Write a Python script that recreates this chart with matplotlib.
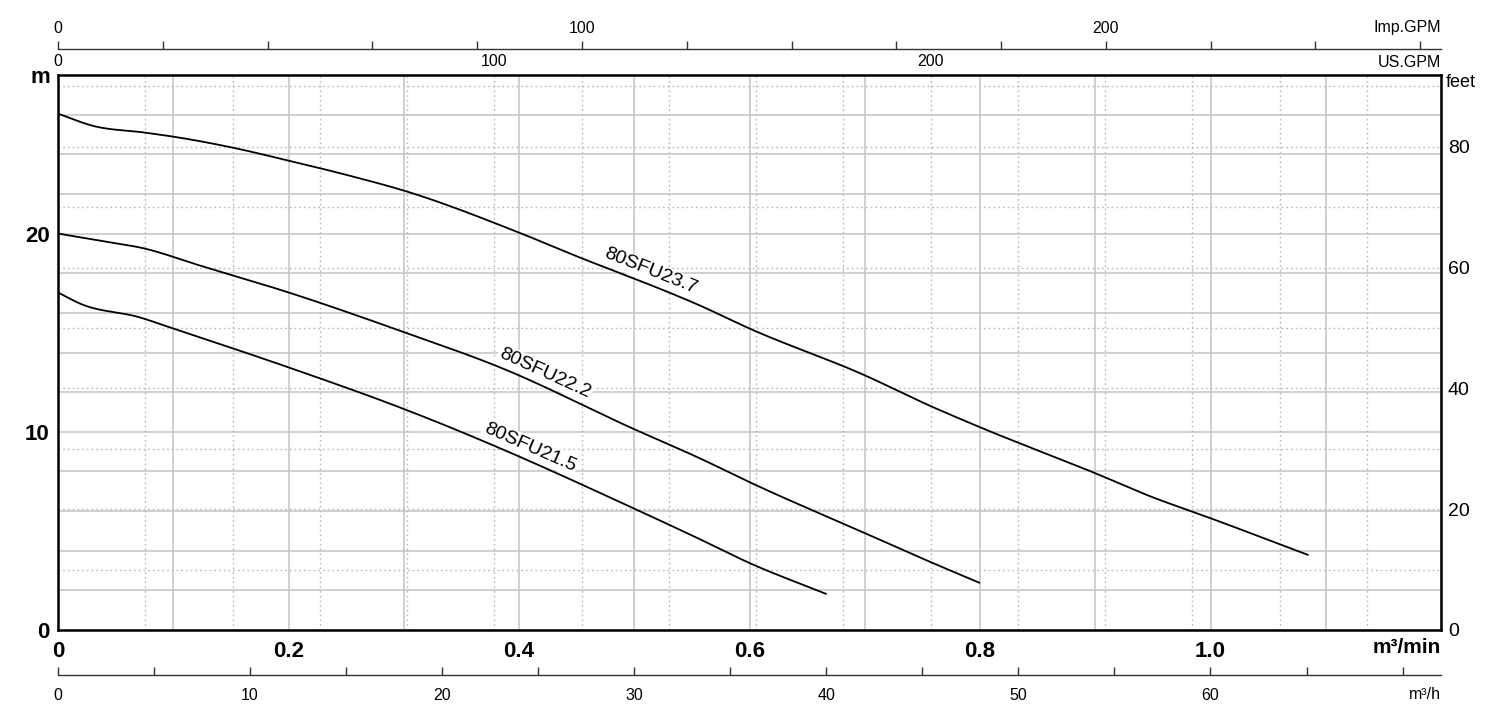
import numpy as np
import matplotlib.pyplot as plt
from matplotlib.ticker import MultipleLocator

plt.rcParams['font.family'] = ['Liberation Sans', 'DejaVu Sans']

# pump curves: flow in m3/min, head in m
q_237 = [0, 0.03, 0.076, 0.1, 0.152, 0.2, 0.253, 0.3, 0.4, 0.455, 0.5, 0.557,
         0.6, 0.7, 0.757, 0.8, 0.9, 0.9475, 1.0, 1.085]
h_237 = [26.05, 25.44, 25.09, 24.89, 24.33, 23.68, 22.92, 22.17, 20.05, 18.74,
         17.73, 16.37, 15.21, 12.85, 11.3, 10.23, 7.91, 6.75, 5.64, 3.78]
q_222 = [0, 0.036, 0.0755, 0.123, 0.2, 0.301, 0.3835, 0.5, 0.557, 0.6, 0.7, 0.757, 0.8]
h_222 = [20.0, 19.65, 19.24, 18.39, 17.03, 15.01, 13.25, 10.13, 8.66, 7.46, 4.89, 3.43, 2.37]
q_215 = [0, 0.019, 0.071, 0.1, 0.2, 0.301, 0.34, 0.3835, 0.499, 0.557, 0.6, 0.667]
h_215 = [17.03, 16.47, 15.77, 15.21, 13.25, 11.13, 10.23, 9.17, 6.15, 4.58, 3.38, 1.81]

names = ['80SFU23.7', '80SFU22.2', '80SFU21.5']
label_q = [0.51, 0.418, 0.405]   # where each name sits along its curve

xticks = [0, 0.2, 0.4, 0.6, 0.8, 1.0]
xticklabels = ['0', '0.2', '0.4', '0.6', '0.8', '1.0']
yticks = [0, 10, 20]
feet_ticks = [0, 20, 40, 60, 80]
usgpm_ticks = [0, 100, 200]
impgpm_ticks = [0, 100, 200]
m3h_ticks = [0, 10, 20, 30, 40, 50, 60]

# unit conversions
US_PER_M3MIN = 264.172
IMP_PER_M3MIN = 219.969
FT_PER_M = 1 / 0.3048


# cubic Hermite through the read points (weighted centred slopes)
def smooth(xs, ys, n=600):
    x = np.asarray(xs, float)
    y = np.asarray(ys, float)
    hstep = np.diff(x)
    d = np.diff(y) / hstep
    m = np.empty_like(x)
    m[0], m[-1] = d[0], d[-1]
    m[1:-1] = (d[:-1] * hstep[1:] + d[1:] * hstep[:-1]) / (hstep[:-1] + hstep[1:])
    xx = np.linspace(x[0], x[-1], n)
    i = np.clip(np.searchsorted(x, xx, side='right') - 1, 0, len(x) - 2)
    t = (xx - x[i]) / hstep[i]
    h00 = 2 * t ** 3 - 3 * t ** 2 + 1
    h10 = t ** 3 - 2 * t ** 2 + t
    h01 = -2 * t ** 3 + 3 * t ** 2
    h11 = t ** 3 - t ** 2
    yy = h00 * y[i] + h10 * hstep[i] * m[i] + h01 * y[i + 1] + h11 * hstep[i] * m[i + 1]
    return xx, yy


fig = plt.figure(figsize=(15, 7.2), dpi=100)
ax = fig.add_axes([58 / 1500, 90 / 720, 1383 / 1500, 555 / 720])
ax.set_xlim(0, 1.2)
ax.set_ylim(0, 28)

# grid: solid every 0.1 m3/min and 2 m, dotted every 20 US GPM and 10 ft
ax.xaxis.set_minor_locator(MultipleLocator(0.1))
ax.yaxis.set_minor_locator(MultipleLocator(2))
ax.grid(True, which='both', color='#c4c4c4', lw=1.1, zorder=1)
ax.set_axisbelow(True)
for g in range(20, 320, 20):
    ax.axvline(g / US_PER_M3MIN, color='#b8b8b8', lw=1.0, ls=(0, (1.2, 2.2)), zorder=1)
for f in range(10, 100, 10):
    ax.axhline(f / FT_PER_M, color='#b8b8b8', lw=1.0, ls=(0, (1.2, 2.2)), zorder=1)

curves = [(q_237, h_237), (q_222, h_222), (q_215, h_215)]
for (q, h), name, lq in zip(curves, names, label_q):
    xs, ys = smooth(q, h)
    ax.plot(xs, ys, color='black', lw=1.3, zorder=3, solid_capstyle='butt')
    # label rotated along the curve
    hq = np.interp(lq, xs, ys)
    a = ax.transData.transform((lq - 0.03, np.interp(lq - 0.03, xs, ys)))
    b = ax.transData.transform((lq + 0.03, np.interp(lq + 0.03, xs, ys)))
    ang = np.degrees(np.arctan2(b[1] - a[1], b[0] - a[0]))
    nx, ny = -np.sin(np.radians(ang)), np.cos(np.radians(ang))
    ax.annotate(name, xy=(lq, hq), xytext=(4 * nx, 4 * ny), textcoords='offset pixels',
                rotation=ang, rotation_mode='anchor', ha='center', va='bottom',
                fontsize=14, zorder=2,
                bbox=dict(boxstyle='square,pad=0.1', fc='white', ec='none'))

for s in ax.spines.values():
    s.set_linewidth(1.8)
    s.set_color('black')

ax.set_xticks(xticks)
ax.set_xticklabels(xticklabels)
ax.set_yticks(yticks)
ax.tick_params(which='both', length=0)
ax.tick_params(axis='x', pad=8, labelsize=16)
ax.tick_params(axis='y', pad=6, labelsize=16)
for lab in ax.get_xticklabels() + ax.get_yticklabels():
    lab.set_fontweight('bold')

ax.text(1.0, -0.031, 'm³/min', transform=ax.transAxes, ha='right', va='center',
        fontsize=15, fontweight='bold')
ax.text(-0.013, 0.995, 'm', transform=ax.transAxes, ha='center', va='center',
        fontsize=16, fontweight='bold')

# feet on the right
ax_ft = ax.secondary_yaxis('right', functions=(lambda m: m * FT_PER_M, lambda f: f / FT_PER_M))
ax_ft.set_yticks(feet_ticks)
ax_ft.tick_params(length=0, pad=5, labelsize=14)
ax.text(1.0035, 0.987, 'feet', transform=ax.transAxes, ha='left', va='center', fontsize=13)

# US GPM along the top of the frame
ax_us = ax.secondary_xaxis('top', functions=(lambda q: q * US_PER_M3MIN, lambda g: g / US_PER_M3MIN))
ax_us.set_xticks(usgpm_ticks)
ax_us.tick_params(length=0, pad=4, labelsize=11.5)
ax_us.spines['top'].set_visible(False)
ax.text(1.0, 1.0234, 'US.GPM', transform=ax.transAxes, ha='right', va='center', fontsize=11.5)

# Imp GPM scale above
ax_imp = ax.secondary_xaxis(1 + 26 / 555, functions=(lambda q: q * IMP_PER_M3MIN,
                                                      lambda g: g / IMP_PER_M3MIN))
ax_imp.set_xticks(impgpm_ticks)
ax_imp.xaxis.set_minor_locator(MultipleLocator(20))
ax_imp.tick_params(which='both', length=6, width=1.0, color='#333333', pad=3, labelsize=11.5)
ax_imp.spines['top'].set_linewidth(1.0)
ax_imp.spines['top'].set_color('#333333')
ax.text(1.0, 1.0847, 'Imp.GPM', transform=ax.transAxes, ha='right', va='center', fontsize=11.5)

# m3/h scale below
ax_h = ax.secondary_xaxis(-45 / 555, functions=(lambda q: q * 60, lambda v: v / 60))
ax_h.set_xticks(m3h_ticks)
ax_h.xaxis.set_minor_locator(MultipleLocator(5))
ax_h.tick_params(which='both', direction='in', length=6, width=1.0, color='#333333',
                 pad=9, labelsize=11.5)
ax_h.spines['bottom'].set_linewidth(1.0)
ax_h.spines['bottom'].set_color('#333333')
ax.text(1.0, -0.117, 'm³/h', transform=ax.transAxes, ha='right', va='center', fontsize=11.5)

fig.savefig('out.png', dpi=100, facecolor='white')
